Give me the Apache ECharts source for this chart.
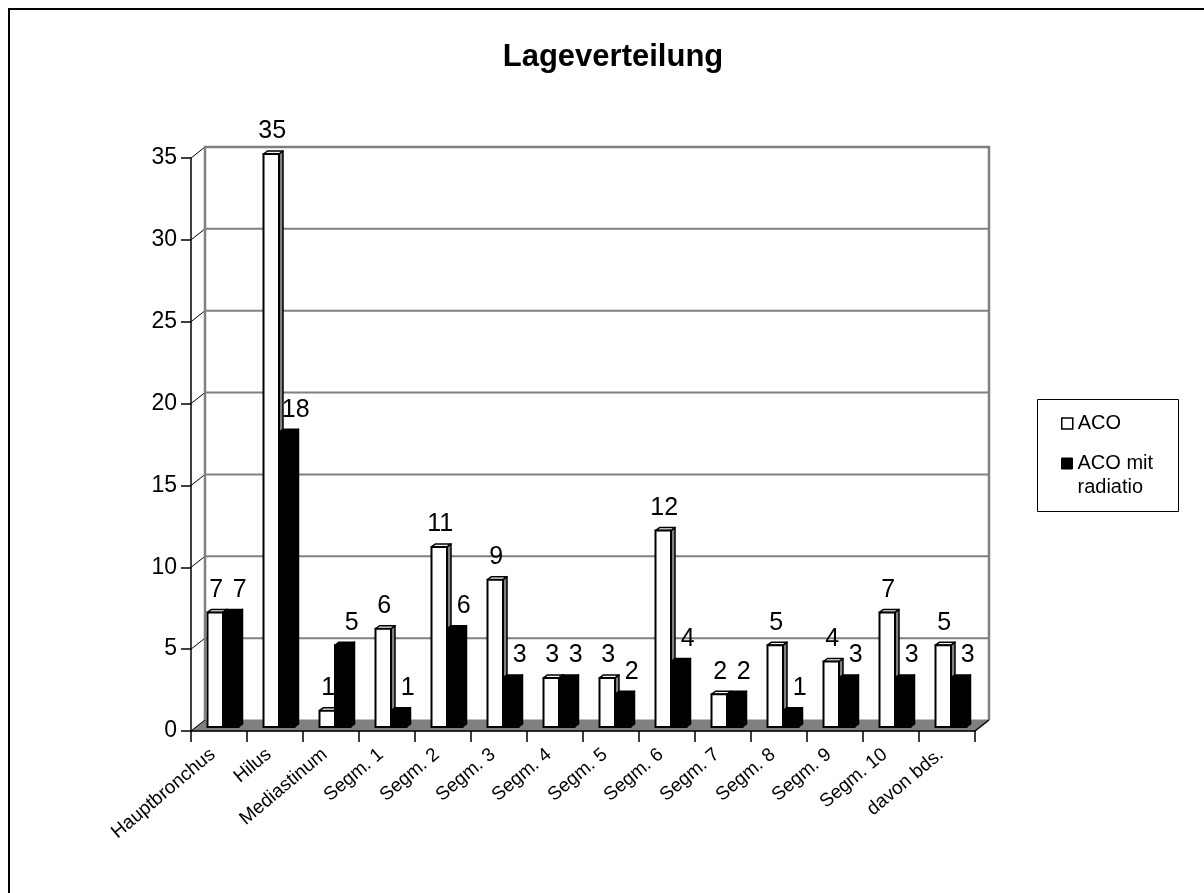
<!DOCTYPE html>
<html>
<head>
<meta charset="utf-8">
<title>Lageverteilung</title>
<script src="https://cdn.jsdelivr.net/npm/echarts@6/dist/echarts.min.js"></script>
<style>
  html, body { margin: 0; padding: 0; background: #fff; }
  #chart { width: 1204px; height: 893px; }
</style>
</head>
<body>
<div id="chart"></div>
<script>
// Locations and counts
const categories = ['Hauptbronchus', 'Hilus', 'Mediastinum', 'Segm. 1', 'Segm. 2', 'Segm. 3', 'Segm. 4',
  'Segm. 5', 'Segm. 6', 'Segm. 7', 'Segm. 8', 'Segm. 9', 'Segm. 10', 'davon bds.'];
const acoValues = [7, 35, 1, 6, 11, 9, 3, 3, 12, 2, 5, 4, 7, 5];
const radiatioValues = [7, 18, 5, 1, 6, 3, 3, 2, 4, 2, 1, 3, 3, 3];
const yTicks = [0, 5, 10, 15, 20, 25, 30, 35];

const FONT = '"Liberation Sans", Arial, Helvetica, sans-serif';

// Pseudo-3D geometry (pixels)
const WALL_DX = 14, WALL_DY = 11;   // depth of back wall behind the front axis plane
const BAR_LIFT = 4;                 // bars stand slightly behind the front plane
const BAR_OFFSET = 16.5, BAR_W = 15.5;
const BAR_DX = 4, BAR_DY = 3;       // bar depth (side and top faces)
const GRAY = '#808080';

function renderFrame(params, api) {
  const cs = params.coordSys;
  const L = cs.x, R = cs.x + cs.width;
  const y0 = api.coord([0, 0])[1];
  const children = [];
  // floor
  children.push({
    type: 'polygon',
    shape: { points: [[L, y0], [R, y0], [R + WALL_DX, y0 - WALL_DY], [L + WALL_DX, y0 - WALL_DY]] },
    style: { fill: GRAY, stroke: GRAY, lineWidth: 1 }
  });
  // back wall grid lines and side-wall diagonals
  yTicks.forEach(function (v) {
    const y = api.coord([0, v])[1];
    if (v > 0) {
      children.push({
        type: 'line',
        shape: { x1: L + WALL_DX, y1: y - WALL_DY, x2: R + WALL_DX, y2: y - WALL_DY },
        style: { stroke: GRAY, lineWidth: 2 }
      });
    }
    children.push({
      type: 'line',
      shape: { x1: L, y1: y, x2: L + WALL_DX, y2: y - WALL_DY },
      style: { stroke: '#000', lineWidth: 1 }
    });
  });
  const yTop = api.coord([0, yTicks[yTicks.length - 1]])[1];
  // wall edges
  children.push({
    type: 'polyline',
    shape: { points: [[L + WALL_DX, y0 - WALL_DY], [L + WALL_DX, yTop - WALL_DY], [R + WALL_DX, yTop - WALL_DY], [R + WALL_DX, y0 - WALL_DY]] },
    style: { stroke: GRAY, lineWidth: 2.5, fill: null }
  });
  children.push({
    type: 'line',
    shape: { x1: R, y1: y0, x2: R + WALL_DX, y2: y0 - WALL_DY },
    style: { stroke: '#000', lineWidth: 1.5 }
  });
  return { type: 'group', children: children };
}

function makeBarRenderer(second) {
  return function (params, api) {
    const i = api.value(0), v = api.value(1);
    const base = api.coord([i, 0]);
    const top = api.coord([i, v]);
    const band = api.size([1, 0])[0];
    const x = base[0] - band / 2 + BAR_OFFSET + (second ? BAR_W : 0);
    const w = BAR_W;
    const yb = base[1] - BAR_LIFT, yt = top[1] - BAR_LIFT;
    const frontFill = second ? '#000' : '#fff';
    const sideFill = second ? '#000' : GRAY;
    const topFill = second ? '#000' : '#f4f4f4';
    const stroke = '#000';
    return {
      type: 'group',
      children: [
        {
          type: 'polygon',
          shape: { points: [[x + w, yt], [x + w + BAR_DX, yt - BAR_DY], [x + w + BAR_DX, yb - BAR_DY], [x + w, yb]] },
          style: { fill: sideFill, stroke: stroke, lineWidth: 1.5, lineJoin: 'round' }
        },
        {
          type: 'polygon',
          shape: { points: [[x, yt], [x + BAR_DX, yt - BAR_DY], [x + w + BAR_DX, yt - BAR_DY], [x + w, yt]] },
          style: { fill: topFill, stroke: stroke, lineWidth: 1.5, lineJoin: 'round' }
        },
        {
          type: 'rect',
          shape: { x: x, y: yt, width: w, height: yb - yt },
          style: { fill: frontFill, stroke: stroke, lineWidth: 2 }
        },
        {
          type: 'text',
          style: {
            text: String(v),
            x: x + w / 2 + (second ? 9 : 1),
            y: yt - 10,
            align: 'center',
            verticalAlign: 'bottom',
            fontSize: 25,
            fontFamily: FONT,
            fill: '#000'
          }
        }
      ]
    };
  };
}

const chart = echarts.init(document.getElementById('chart'), null, { renderer: 'canvas' });

chart.setOption({
  animation: false,
  backgroundColor: '#fff',
  title: {
    text: 'Lageverteilung',
    left: 608,
    top: 37,
    textAlign: 'center',
    textStyle: { fontFamily: FONT, fontSize: 31, fontWeight: 'bold', color: '#000' }
  },
  legend: [
    {
      orient: 'vertical', left: 1061, top: 411.5, padding: 0,
      itemWidth: 11, itemHeight: 11, selectedMode: false,
      textStyle: { fontFamily: FONT, fontSize: 20, color: '#000', lineHeight: 24 },
      data: [{ name: 'ACO', icon: 'rect', itemStyle: { color: '#fff', borderColor: '#000', borderWidth: 1.5 } }]
    },
    {
      orient: 'vertical', left: 1061, top: 427.5, padding: 0,
      itemWidth: 11, itemHeight: 11, selectedMode: false,
      textStyle: { fontFamily: FONT, fontSize: 20, color: '#000', lineHeight: 24 },
      // first line stays level with the marker, the second wraps below it
      formatter: function () { return ' \nACO mit\nradiatio'; },
      data: [{ name: 'ACO mit radiatio', icon: 'rect', itemStyle: { color: '#000', borderColor: '#000', borderWidth: 1 } }]
    }
  ],
  graphic: [
    {
      type: 'rect', z: 100, silent: true,
      shape: { x: 9, y: 9, width: 1205, height: 900 },
      style: { fill: null, stroke: '#000', lineWidth: 2 }
    },
    {
      type: 'rect', z: 100, silent: true,
      shape: { x: 1037.5, y: 399.5, width: 141, height: 112 },
      style: { fill: null, stroke: '#000', lineWidth: 1 }
    }
  ],
  grid: {
    left: 191, top: 158, width: 784, height: 573,
    containLabel: false, outerBoundsMode: 'none'
  },
  xAxis: {
    type: 'category',
    data: categories,
    boundaryGap: true,
    z: 10,
    axisLine: { lineStyle: { color: '#000', width: 1.5 } },
    axisTick: { show: true, interval: 0, length: 11, lineStyle: { color: '#000', width: 1.5 } },
    axisLabel: {
      interval: 0, rotate: 40, margin: 16, padding: [0, 8, 0, 0],
      fontFamily: FONT, fontSize: 19, color: '#000'
    },
    splitLine: { show: false }
  },
  yAxis: {
    type: 'value',
    min: 0, max: 35, interval: 5,
    z: 10,
    axisLine: { show: true, lineStyle: { color: '#000', width: 1.5 } },
    axisTick: { show: true, length: 10, lineStyle: { color: '#000', width: 1.5 } },
    axisLabel: { margin: 14, fontFamily: FONT, fontSize: 23, color: '#000' },
    splitLine: { show: false }
  },
  series: [
    {
      name: 'frame', type: 'custom', silent: true,
      renderItem: renderFrame,
      data: [[0, 0]],
      encode: { x: 0, y: 1 },
      z: 1
    },
    {
      name: 'ACO', type: 'custom',
      itemStyle: { color: '#fff', borderColor: '#000' },
      renderItem: makeBarRenderer(false),
      data: acoValues.map(function (v, i) { return [i, v]; }),
      encode: { x: 0, y: 1 },
      z: 2
    },
    {
      name: 'ACO mit radiatio', type: 'custom',
      itemStyle: { color: '#000' },
      renderItem: makeBarRenderer(true),
      data: radiatioValues.map(function (v, i) { return [i, v]; }),
      encode: { x: 0, y: 1 },
      z: 3
    }
  ]
});
</script>
</body>
</html>
